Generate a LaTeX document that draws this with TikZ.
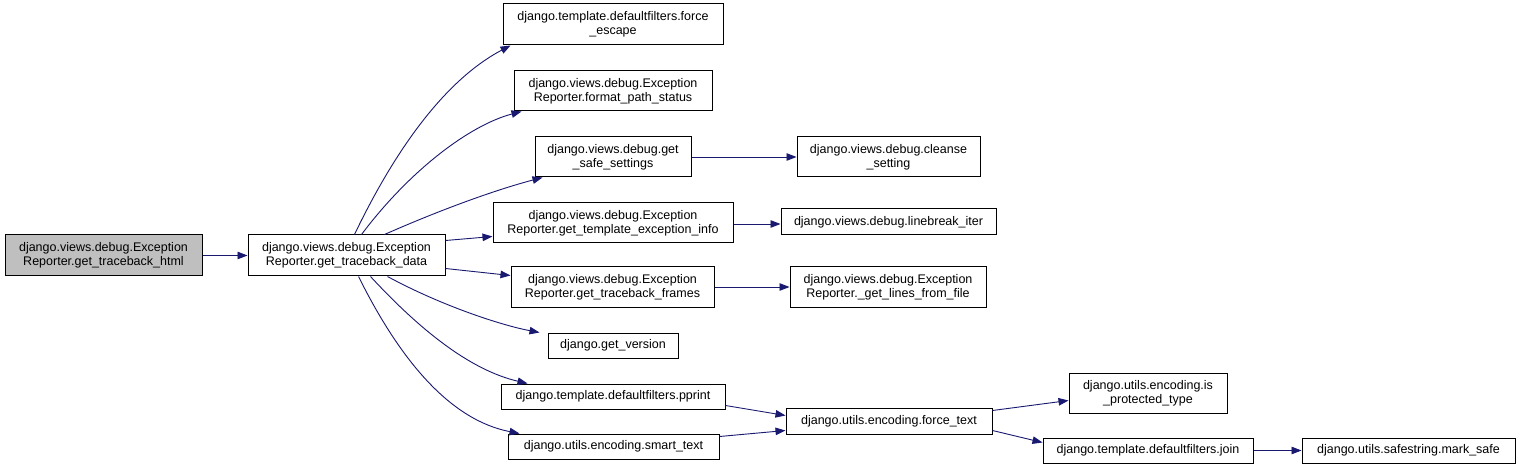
\documentclass[tikz,border=0pt]{standalone}
\usepackage{fontspec}
\setmainfont{Liberation Sans}
\usetikzlibrary{arrows.meta}
\definecolor{edgec}{HTML}{191970}
\definecolor{grayfill}{HTML}{BFBFBF}
\tikzset{
  fn/.style={draw=black, line width=1pt, fill=white, inner sep=0pt, align=center,
    font=\fontsize{12.5pt}{14pt}\selectfont, text=black},
  call/.style={draw=edgec, line width=0.9pt, -{Triangle[length=10pt,width=7.5pt]}},
}
\newcommand{\bx}[6]{% name, x1, y1, x2, y2, text
  \node[fn, minimum width={(#4-#2)*1pt}, minimum height={(#5-#3)*1pt}] (#1) at ({(#2+#4)/2},{(#3+#5)/2}) {#6};}
\begin{document}
\begin{tikzpicture}[x=1pt,y=-1pt]
\useasboundingbox (0,0) rectangle (1520,470);
\fill[white] (0,0) rectangle (1520,470);
% nodes
\node[fn, fill=grayfill, minimum width=197pt, minimum height=41pt] (A) at (103.5,255.5) {django.views.debug.Exception\\Reporter.get\_traceback\_html};
\bx{B}{248}{235}{445}{276}{django.views.debug.Exception\\Reporter.get\_traceback\_data}
\bx{C1}{503}{4}{723}{45}{django.template.defaultfilters.force\\\_escape}
\bx{C2}{514}{71}{712}{111}{django.views.debug.Exception\\Reporter.format\_path\_status}
\bx{C3}{535}{137}{691}{177}{django.views.debug.get\\\_safe\_settings}
\bx{C4}{493}{203}{733}{243}{django.views.debug.Exception\\Reporter.get\_template\_exception\_info}
\bx{C5}{511}{267}{714}{307}{django.views.debug.Exception\\Reporter.get\_traceback\_frames}
\bx{C6}{548}{333}{678}{358}{django.get\_version}
\bx{C7}{501}{384}{725}{409}{django.template.defaultfilters.pprint}
\bx{C8}{508}{434}{719}{459}{django.utils.encoding.smart\_text}
\bx{D1}{797}{137}{980}{177}{django.views.debug.cleanse\\\_setting}
\bx{D2}{781}{209}{996}{235}{django.views.debug.linebreak\_iter}
\bx{D3}{790}{267}{986}{307}{django.views.debug.Exception\\Reporter.\_get\_lines\_from\_file}
\bx{D4}{786}{408}{992}{434}{django.utils.encoding.force\_text}
\bx{E1}{1069}{373}{1227}{413}{django.utils.encoding.is\\\_protected\_type}
\bx{E2}{1043}{438}{1253}{463}{django.template.defaultfilters.join}
\bx{F1}{1302}{438}{1515}{463}{django.utils.safestring.mark\_safe}
% edges
\draw[call] (A.east) -- (B.west);
\draw[call] ([xshift=107pt]B.north west) .. controls (395,150) and (445,80) .. ([xshift=8pt]C1.south west);
\draw[call] ([xshift=114pt]B.north west) .. controls (410,170) and (470,125) .. ([xshift=8pt]C2.south west);
\draw[call] ([xshift=137pt]B.north west) .. controls (440,210) and (495,190) .. ([xshift=8pt]C3.south west);
\draw[call] ([yshift=-6pt]B.north east) -- ([yshift=-34pt]C4.north west);
\draw[call] ([yshift=8pt]B.south east) -- ([yshift=-9pt]C5.north west);
\draw[call] ([xshift=140pt]B.south west) .. controls (440,305) and (500,325) .. ([xshift=-8pt]C6.north west);
\draw[call] ([xshift=123pt]B.south west) .. controls (420,330) and (470,370) .. ([xshift=27pt]C7.north west);
\draw[call] ([xshift=111pt]B.south west) .. controls (400,360) and (450,420) .. ([xshift=12pt]C8.north west);
\draw[call] (C3.east) -- (D1.west);
\draw[call] ([yshift=-1pt]C4.east) -- ([yshift=-2pt]D2.west);
\draw[call] (C5.east) -- (D3.west);
\draw[call] ([yshift=-22pt]C7.north east) -- ([yshift=-8pt]D4.north west);
\draw[call] ([yshift=-3pt]C8.north east) -- ([yshift=4pt]D4.south west);
\draw[call] ([yshift=-3pt]D4.north east) -- ([yshift=-28pt]E1.north west);
\draw[call] ([yshift=4pt]D4.south east) -- ([yshift=-5pt]E2.north west);
\draw[call] (E2.east) -- (F1.west);
\end{tikzpicture}
\end{document}
